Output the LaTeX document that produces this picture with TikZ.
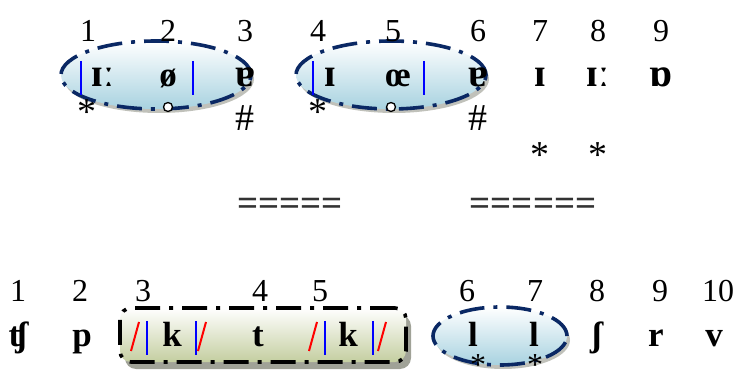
\documentclass[tikz,border=0pt]{standalone}
\usepackage{fontspec}
\setmainfont{Liberation Serif}
\usetikzlibrary{shapes.geometric,shadows}
\definecolor{navy}{RGB}{10,40,100}
\definecolor{ipablue}{RGB}{0,0,255}
\definecolor{lightteal}{RGB}{168,210,224}
\definecolor{olivefill}{RGB}{196,206,160}
\definecolor{shadowgray}{RGB}{150,152,140}
\begin{document}
\begin{tikzpicture}[x=1pt,y=-1pt,
  num/.style={font=\fontsize{32}{32}\selectfont, inner sep=0pt, anchor=base},
  sym/.style={font=\fontsize{35}{35}\selectfont\bfseries, inner sep=0pt, anchor=base},
  bigsym/.style={font=\fontsize{40}{40}\selectfont\bfseries, inner sep=0pt, anchor=base},
  glyph/.style={font=\fontsize{38}{38}\selectfont, inner sep=0pt, anchor=center},
  smallglyph/.style={font=\fontsize{32}{32}\selectfont, inner sep=0pt, anchor=center},
  eqs/.style={font=\fontsize{37}{37}\selectfont\bfseries, inner sep=0pt, anchor=center, text=black!80},
  dd/.style={dash pattern=on 25pt off 9pt on 4pt off 9pt, line width=3.6pt},
  blob/.style={ellipse, draw=navy, dd, top color=white, bottom color=lightteal,
    drop shadow={shadow xshift=3pt, shadow yshift=-4pt, fill=shadowgray, opacity=0.6}},
  box/.style={rectangle, rounded corners=11pt, draw=black, dd, top color=white, bottom color=olivefill,
    drop shadow={shadow xshift=5pt, shadow yshift=-7pt, fill=shadowgray, opacity=0.9}},
  bar/.style={ipablue, line width=2.5pt},
  slash/.style={red, line width=2pt},
  ring/.style={circle, draw=black, line width=1.3pt, fill=white, inner sep=0pt, minimum size=9pt},
]
\useasboundingbox (0,0) rectangle (745,374);

% ---- top row shapes
\node[blob, minimum width=190pt, minimum height=68pt] (e1) at (156,75) {};
\node[blob, minimum width=190pt, minimum height=68pt] (e2) at (391,75) {};

% top numbers
\node[num] (n1) at (88,42) {1};
\node[num] (n2) at (168,42) {2};
\node[num] (n3) at (245,42) {3};
\node[num] (n4) at (318,42) {4};
\node[num] (n5) at (393,42) {5};
\node[num] (n6) at (478,42) {6};
\node[num] (n7) at (540,42) {7};
\node[num] (n8) at (598,42) {8};
\node[num] (n9) at (661,42) {9};

% top symbols
\node[bigsym] (s1) at (103,87) {ɪː};
\node[sym] (s2) at (168,87) {ø};
\node[bigsym] (s3) at (245,87) {ɐ};
\node[bigsym] (s4) at (330,87) {ɪ};
\node[sym] (s5) at (398,87) {œ};
\node[bigsym] (s6) at (478,87) {ɐ};
\node[bigsym] (s7) at (540,87) {ɪ};
\node[bigsym] (s8) at (598,87) {ɪː};
\node[bigsym] (s9) at (661,87) {ɒ};

% bars
\coordinate (t1a) at (81,61); \coordinate (t1b) at (81,95);
\coordinate (t2a) at (193,61); \coordinate (t2b) at (193,95);
\coordinate (t3a) at (313,61); \coordinate (t3b) at (313,95);
\coordinate (t4a) at (424,61); \coordinate (t4b) at (424,95);
\draw[bar] (t1a) -- (t1b);
\draw[bar] (t2a) -- (t2b);
\draw[bar] (t3a) -- (t3b);
\draw[bar] (t4a) -- (t4b);

% marks under top row
\node[glyph] (a1) at (87,112) {*};
\node[ring] (r1) at (168,107) {};
\node[glyph] (h1) at (245,118) {\#};
\node[glyph] (a2) at (318,112) {*};
\node[ring] (r2) at (391,107) {};
\node[glyph] (h2) at (478,118) {\#};
\node[glyph] (a3) at (540,155) {*};
\node[glyph] (a4) at (598,155) {*};

% equals
\node[eqs] (q1) at (290,207) {=====};
\node[eqs] (q2) at (533,207) {======};

% ---- bottom row shapes
\node[box, minimum width=286pt, minimum height=54pt] (bx) at (263,335) {};
\node[blob, minimum width=134pt, minimum height=58pt] (e3) at (500,336) {};

% bottom numbers
\node[num] (m1) at (18,302) {1};
\node[num] (m2) at (80,302) {2};
\node[num] (m3) at (143,302) {3};
\node[num] (m4) at (260,302) {4};
\node[num] (m5) at (320,302) {5};
\node[num] (m6) at (467,302) {6};
\node[num] (m7) at (535,302) {7};
\node[num] (m8) at (597,302) {8};
\node[num] (m9) at (660,302) {9};
\node[num] (m10) at (718,302) {10};

% bottom symbols
\node[sym] (b1) at (18,347) {ʧ};
\node[sym] (b2) at (82,347) {p};
\node[sym] (b3) at (172,347) {k};
\node[sym] (b4) at (258,347) {t};
\node[sym] (b5) at (348,347) {k};
\node[sym] (b6) at (473,347) {l};
\node[sym] (b7) at (534,347) {l};
\node[sym] (b8) at (597,347) {ʃ};
\node[sym] (b9) at (656,347) {r};
\node[sym] (b10) at (714,347) {v};

% red slashes and blue bars
\coordinate (ra1) at (131,351); \coordinate (rb1) at (139,322);
\coordinate (ra2) at (198,351); \coordinate (rb2) at (206,322);
\coordinate (ra3) at (309,351); \coordinate (rb3) at (317,322);
\coordinate (ra4) at (378,351); \coordinate (rb4) at (386,322);
\draw[slash] (ra1) -- (rb1);
\draw[slash] (ra2) -- (rb2);
\draw[slash] (ra3) -- (rb3);
\draw[slash] (ra4) -- (rb4);
\coordinate (ba1) at (147,321); \coordinate (bb1) at (147,355);
\coordinate (ba2) at (196,321); \coordinate (bb2) at (196,355);
\coordinate (ba3) at (325,321); \coordinate (bb3) at (325,355);
\coordinate (ba4) at (373,321); \coordinate (bb4) at (373,355);
\draw[bar] (ba1) -- (bb1);
\draw[bar] (ba2) -- (bb2);
\draw[bar] (ba3) -- (bb3);
\draw[bar] (ba4) -- (bb4);

% bottom asterisks
\node[smallglyph] (a5) at (478,365) {*};
\node[smallglyph] (a6) at (535,365) {*};
\end{tikzpicture}
\end{document}
